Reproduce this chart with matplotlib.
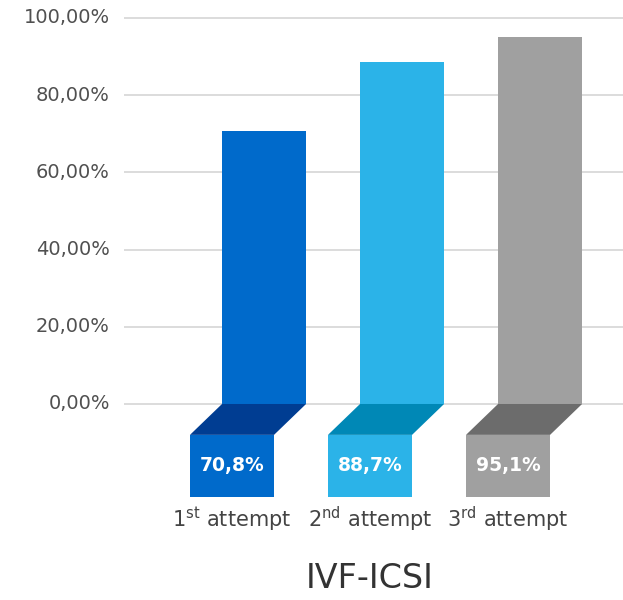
import numpy as np
import matplotlib.pyplot as plt
from matplotlib.patches import Polygon

# data
categories = ["1$^{\\mathregular{st}}$ attempt", "2$^{\\mathregular{nd}}$ attempt", "3$^{\\mathregular{rd}}$ attempt"]
values = [70.8, 88.7, 95.1]
value_labels = ["70,8%", "88,7%", "95,1%"]
yticks = [0, 20, 40, 60, 80, 100]
ytick_labels = ["0,00%", "20,00%", "40,00%", "60,00%", "80,00%", "100,00%"]
title = "IVF-ICSI"

bar_colors = ["#006ACB", "#2BB3E8", "#A0A0A0"]
shelf_colors = ["#003D92", "#0088B6", "#6C6C6C"]

fig = plt.figure(figsize=(6.23, 6.0), dpi=100)
ax = fig.add_axes([0, 0, 1, 1])
ax.set_xlim(-1.913, 2.601)
ax.set_ylim(-50.78, 104.66)
ax.axis("off")

x = np.arange(len(values))
w = 0.609
dx = 0.232     # shift of the lower box to the left
depth = 8.0    # height of the slanted shelf
box_h = 16.1

# gridlines and tick labels
ax.hlines(yticks, -1.014, 2.601, color="#D9D9D9", linewidth=1.3, zorder=0)
for t, lab in zip(yticks, ytick_labels):
    ax.text(-1.116, t, lab, ha="right", va="center", fontsize=14, color="#505050",
            fontweight="medium")

# bars
ax.bar(x, values, width=w, color=bar_colors, zorder=2)

# shelves and boxes below zero
for i in range(len(values)):
    xl, xr = x[i] - w / 2, x[i] + w / 2
    shelf = Polygon([(xl, 0), (xr, 0), (xr - dx, -depth), (xl - dx, -depth)],
                    closed=True, facecolor=shelf_colors[i], edgecolor="none", zorder=2)
    ax.add_patch(shelf)
ax.bar(x - dx, [box_h] * len(values), bottom=-depth - box_h, width=w, color=bar_colors, zorder=2)
for i in range(len(values)):
    ax.text(x[i] - dx, -depth - box_h / 2, value_labels[i], ha="center", va="center",
            fontsize=13.5, fontweight="bold", color="white", zorder=3)
    ax.text(x[i] - dx, -30.0, categories[i], ha="center", va="center",
            fontsize=15, color="#444444")

ax.text(1 - dx, -45.1, title, ha="center", va="center", fontsize=24, color="#333333")

fig.savefig("out.png", dpi=100)
